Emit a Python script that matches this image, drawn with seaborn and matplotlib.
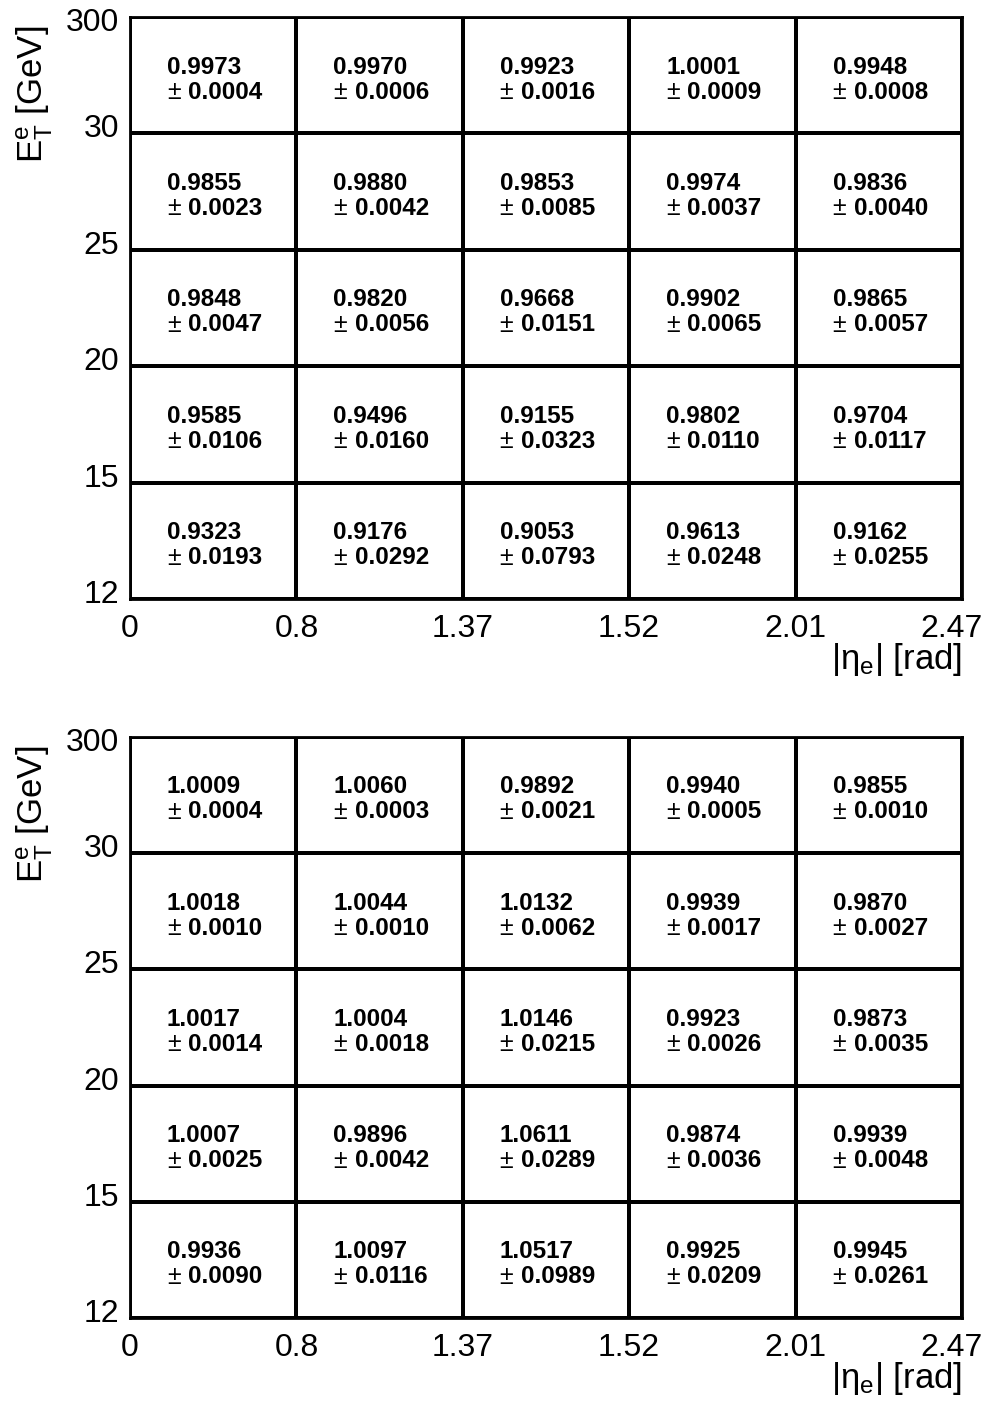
import numpy as np
import matplotlib
matplotlib.use("Agg")
import matplotlib.pyplot as plt
import matplotlib.transforms as mtransforms
import seaborn as sns
from matplotlib.colors import ListedColormap

sns.set_style("white")
plt.rcParams["font.family"] = ["Liberation Sans", "DejaVu Sans"]
plt.rcParams["mathtext.fontset"] = "custom"
plt.rcParams["mathtext.rm"] = "Liberation Sans"
plt.rcParams["mathtext.it"] = "Liberation Sans:italic"
for key in ["text.color", "axes.labelcolor", "xtick.color", "ytick.color"]:
    plt.rcParams[key] = "black"

# bin edges (rows listed top to bottom)
eta_edges = ["0", "0.8", "1.37", "1.52", "2.01", "2.47"]
et_edges = ["300", "30", "25", "20", "15", "12"]

# top panel
sf_top = [
    [0.9973, 0.9970, 0.9923, 1.0001, 0.9948],
    [0.9855, 0.9880, 0.9853, 0.9974, 0.9836],
    [0.9848, 0.9820, 0.9668, 0.9902, 0.9865],
    [0.9585, 0.9496, 0.9155, 0.9802, 0.9704],
    [0.9323, 0.9176, 0.9053, 0.9613, 0.9162],
]
err_top = [
    [0.0004, 0.0006, 0.0016, 0.0009, 0.0008],
    [0.0023, 0.0042, 0.0085, 0.0037, 0.0040],
    [0.0047, 0.0056, 0.0151, 0.0065, 0.0057],
    [0.0106, 0.0160, 0.0323, 0.0110, 0.0117],
    [0.0193, 0.0292, 0.0793, 0.0248, 0.0255],
]

# bottom panel
sf_bot = [
    [1.0009, 1.0060, 0.9892, 0.9940, 0.9855],
    [1.0018, 1.0044, 1.0132, 0.9939, 0.9870],
    [1.0017, 1.0004, 1.0146, 0.9923, 0.9873],
    [1.0007, 0.9896, 1.0611, 0.9874, 0.9939],
    [0.9936, 1.0097, 1.0517, 0.9925, 0.9945],
]
err_bot = [
    [0.0004, 0.0003, 0.0021, 0.0005, 0.0010],
    [0.0010, 0.0010, 0.0062, 0.0017, 0.0027],
    [0.0014, 0.0018, 0.0215, 0.0026, 0.0035],
    [0.0025, 0.0042, 0.0289, 0.0036, 0.0048],
    [0.0090, 0.0116, 0.0989, 0.0209, 0.0261],
]

fig = plt.figure(figsize=(9.9, 14.08), dpi=100)
ax1 = fig.add_axes([0.1313, 0.5746, 0.8404, 0.4133])
ax2 = fig.add_axes([0.1313, 0.0639, 0.8404, 0.4127])


def shift(label, dx, dy):
    label.set_transform(label.get_transform() +
                        mtransforms.ScaledTranslation(dx, dy, fig.dpi_scale_trans))


def draw_panel(ax, sf, err):
    sns.heatmap(np.array(sf), ax=ax, cmap=ListedColormap(["white"]), cbar=False,
                linewidths=1.6, linecolor="black", annot=False)
    for i in range(len(sf)):
        for j in range(len(sf[i])):
            ax.text(j + 0.222, i + 0.43, f"{sf[i][j]:.4f}", ha="left", va="center",
                    fontsize=17.5, fontweight="bold")
            ax.text(j + 0.222, i + 0.645, "±", ha="left", va="center", fontsize=18)
            ax.text(j + 0.35, i + 0.645, f"{err[i][j]:.4f}", ha="left", va="center",
                    fontsize=17.5, fontweight="bold")
    for s in ax.spines.values():
        s.set_visible(True)
        s.set_linewidth(2)
        s.set_color("black")
    ax.set_xticks(range(6))
    ax.set_xticklabels(eta_edges, rotation=0, fontsize=23)
    ax.set_yticks(range(6))
    ax.set_yticklabels(et_edges, rotation=0, fontsize=23, va="center")
    ax.tick_params(length=0, pad=8)
    ax.tick_params(axis="x", pad=11)
    # nudge labels the way the reference places them
    shift(ax.get_xticklabels()[-1], -0.1, 0)
    shift(ax.get_yticklabels()[0], 0, -0.06)
    for lab in ax.get_yticklabels()[1:]:
        shift(lab, 0, 0.04)
    ax.set_xlabel(r"|η$_\mathregular{e}$| [rad]", fontsize=25, ha="right")
    ax.xaxis.set_label_coords(1.0, -0.073)
    ax.set_ylabel(r"$\mathregular{E_T^e}$ [GeV]", fontsize=25, ha="right")
    ax.yaxis.set_label_coords(-0.09, 0.985)


draw_panel(ax1, sf_top, err_top)
draw_panel(ax2, sf_bot, err_bot)

plt.savefig("out.png", dpi=100)
